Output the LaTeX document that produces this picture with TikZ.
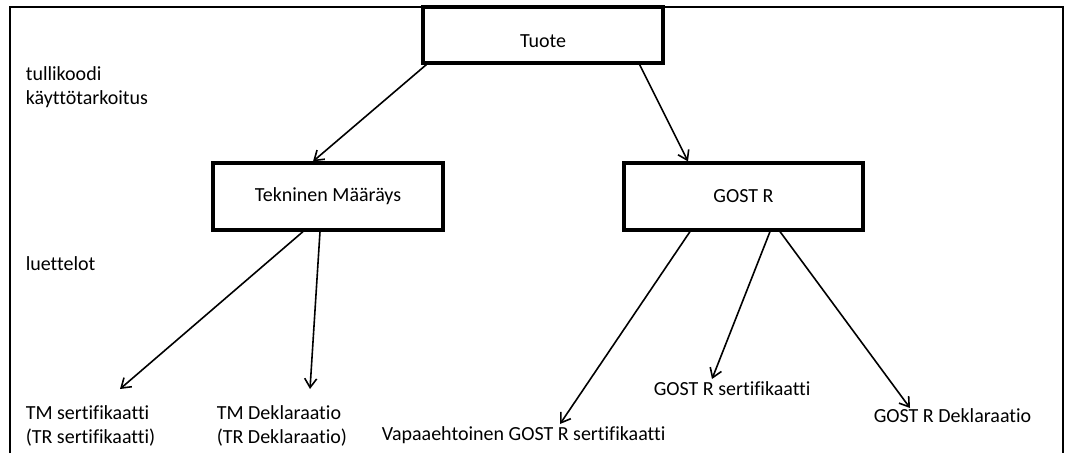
\documentclass[tikz,border=0pt]{standalone}
\usepackage{fontspec}
\setmainfont{Carlito}[Ligatures=NoCommon]
\usepackage{tikz}
\usetikzlibrary{shapes}
\usetikzlibrary{arrows.meta}
\tikzset{
  main node/.style={rectangle,draw,line width=3.2pt,font=\fontsize{20}{24}\selectfont},
  text node/.style={rectangle,inner sep=0pt,align=left,anchor=base west,font=\fontsize{20}{24}\selectfont}
}

\begin{document}
\begin{tikzpicture}[x=1pt,y=-1pt,->,>={Straight Barb[length=9pt,width=12pt]},line width=1.6pt]
  \useasboundingbox (0,0) rectangle (1067,455);
  \draw[-,line width=1.6pt] (10,453) -- (10,7) -- (1063,7) -- (1063,453);
		    \node[main node,minimum width=240pt,minimum height=56pt,text height=28pt,text depth=4pt] (1) at (543,35) {Tuote};
		    \node[main node,minimum width=230pt,minimum height=67pt] (2) at (328,196.5) {Tekninen Määräys};
		    \node[main node,minimum width=239pt,minimum height=67pt] (3) at (743.5,196.5) {GOST R};
		    \node[text node] (4) at (25,104) {tullikoodi\\käyttötarkoitus};
		    \node[text node] (5) at (25,270) {luettelot};
		    \node[text node] (6) at (25,443) {TM sertifikaatti\\(TR sertifikaatti)};
		    \node[text node] (7) at (216,443) {TM Deklaraatio\\(TR Deklaraatio)};
		    \node[text node] (8) at (381,440) {Vapaaehtoinen GOST R sertifikaatti};
		    \node[text node] (9) at (653,395) {GOST R sertifikaatti};
		    \node[text node] (10) at (873,422) {GOST R Deklaraatio};
		    \draw ([xshift=5pt]1.south west) -- ([xshift=-15pt]2.north);
		    \draw ([xshift=-25pt]1.south east) -- ([xshift=-55.5pt]3.north);
		    \draw ([xshift=-25pt]2.south) -- ([xshift=95pt,yshift=54pt]6.base west);
		    \draw ([xshift=-8pt]2.south) -- ([xshift=94pt,yshift=54pt]7.base west);
		    \draw ([xshift=-53.5pt]3.south) -- ([xshift=179pt,yshift=16pt]8.base west);
		    \draw ([xshift=26.5pt]3.south) -- ([xshift=59pt,yshift=16pt]9.base west);
		    \draw ([xshift=36.5pt]3.south) -- ([xshift=37pt,yshift=14pt]10.base west);
		  \end{tikzpicture}
\end{document}
